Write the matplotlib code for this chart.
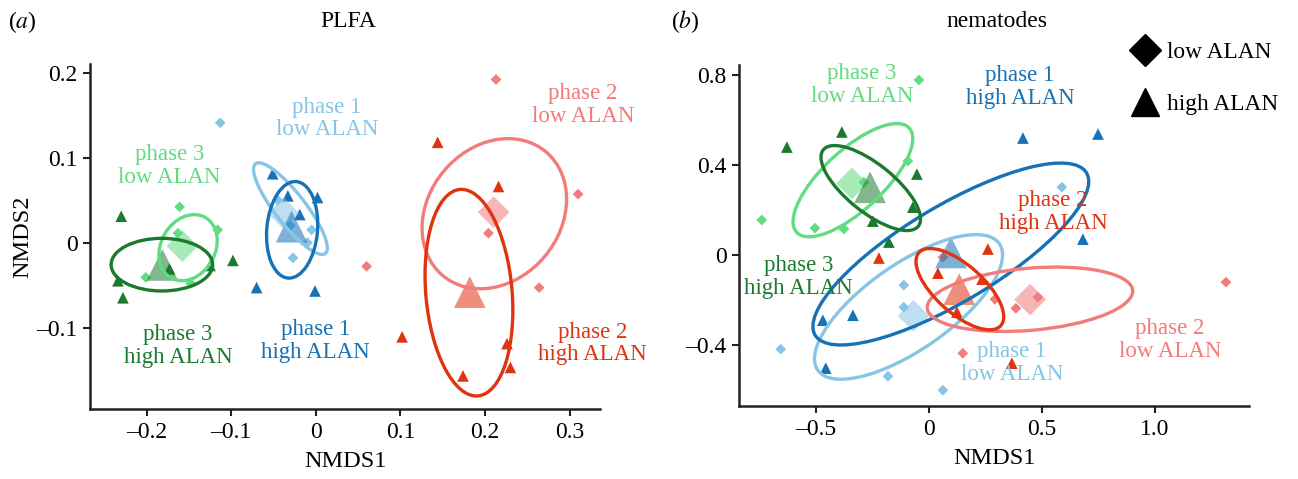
import matplotlib
matplotlib.use("Agg")
import matplotlib.pyplot as plt
from matplotlib.patches import Ellipse
from matplotlib.lines import Line2D
import numpy as np

# groups: (phase, ALAN level)
GROUPS = ["p1_low", "p1_high", "p2_low", "p2_high", "p3_low", "p3_high"]
LABELS = {
    "p1_low": "phase 1\nlow ALAN", "p1_high": "phase 1\nhigh ALAN",
    "p2_low": "phase 2\nlow ALAN", "p2_high": "phase 2\nhigh ALAN",
    "p3_low": "phase 3\nlow ALAN", "p3_high": "phase 3\nhigh ALAN",
}

# ---- PLFA (panel a) site scores
plfa_x = {
    "p1_low": [-0.113, -0.027, -0.010, -0.005, -0.045, -0.030],
    "p1_high": [-0.051, -0.033, 0.002, -0.019, -0.070, -0.001],
    "p2_low": [0.213, 0.310, 0.204, 0.060, 0.264],
    "p2_high": [0.144, 0.216, 0.102, 0.226, 0.230, 0.174],
    "p3_low": [-0.161, -0.163, -0.116, -0.201, -0.148],
    "p3_high": [-0.230, -0.228, -0.234, -0.098, -0.125, -0.173],
}
plfa_y = {
    "p1_low": [0.141, -0.018, 0.000, 0.015, 0.050, 0.020],
    "p1_high": [0.081, 0.055, 0.053, 0.033, -0.053, -0.057],
    "p2_low": [0.192, 0.057, 0.011, -0.028, -0.053],
    "p2_high": [0.118, 0.066, -0.111, -0.119, -0.147, -0.157],
    "p3_low": [0.042, 0.011, 0.015, -0.041, -0.048],
    "p3_high": [0.031, -0.065, -0.045, -0.021, -0.027, -0.031],
}
# ellipses: centre x, centre y, semi-major, semi-minor, angle (deg)
plfa_ell = {
    "p1_low": (-0.030, 0.040, 0.067, 0.018, -52),
    "p1_high": (-0.028, 0.015, 0.057, 0.030, 85),
    "p2_low": (0.211, 0.034, 0.095, 0.078, 50),
    "p2_high": (0.181, -0.059, 0.122, 0.051, 95),
    "p3_low": (-0.151, -0.006, 0.041, 0.032, 60),
    "p3_high": (-0.182, -0.026, 0.060, 0.031, 0),
}

# ---- nematodes (panel b)
nema_x = {
    "p1_low": [-0.655, -0.181, 0.062, -0.111, -0.111, 0.588],
    "p1_high": [0.416, 0.748, 0.681, -0.469, -0.336, -0.456],
    "p2_low": [1.314, 0.482, 0.385, 0.292, 0.150, 0.062],
    "p2_high": [-0.221, 0.261, 0.040, 0.235, 0.124, 0.367],
    "p3_low": [-0.739, -0.504, -0.376, -0.288, -0.093, -0.044],
    "p3_high": [-0.385, -0.628, -0.053, -0.071, -0.248, -0.177],
}
nema_y = {
    "p1_low": [-0.418, -0.538, -0.600, -0.133, -0.231, 0.302],
    "p1_high": [0.520, 0.538, 0.071, -0.289, -0.267, -0.502],
    "p2_low": [-0.120, -0.187, -0.236, -0.196, -0.436, -0.009],
    "p2_high": [-0.013, 0.027, -0.080, -0.107, -0.253, -0.480],
    "p3_low": [0.156, 0.120, 0.116, 0.324, 0.418, 0.778],
    "p3_high": [0.547, 0.480, 0.360, 0.213, 0.151, 0.058],
}
nema_ell = {
    "p1_low": (-0.09, -0.23, 0.49, 0.19, 35),
    "p1_high": (0.097, 0.005, 0.70, 0.213, 31),
    "p2_low": (0.447, -0.196, 0.456, 0.138, 5),
    "p2_high": (0.137, -0.151, 0.243, 0.106, -42),
    "p3_low": (-0.336, 0.333, 0.34, 0.133, 43),
    "p3_high": (-0.257, 0.298, 0.27, 0.106, -39),
}

COLORS = {
    "p1_low": "#86c5e6", "p1_high": "#1672b6",
    "p2_low": "#f27b7b", "p2_high": "#e0330f",
    "p3_low": "#62dc80", "p3_high": "#1c7a2f",
}

SERIF = ["Liberation Serif", "DejaVu Serif"]
plt.rcParams["font.family"] = SERIF
plt.rcParams["mathtext.fontset"] = "stix"

fig = plt.figure(figsize=(12.98, 4.79), dpi=100)
ax_a = fig.add_axes([0.0693, 0.146, 0.393, 0.720])
ax_b = fig.add_axes([0.5693, 0.152, 0.393, 0.712])


def draw_panel(ax, xs, ys, ells, label_pos, small_d, small_t, big_d, big_t):
    for g in GROUPS:
        c = COLORS[g]
        low = g.endswith("low")
        mk = "D" if low else "^"
        ax.scatter(xs[g], ys[g], marker=mk, s=small_d if low else small_t,
                   color=c, edgecolors="none", zorder=2)
        ax.scatter([np.mean(xs[g])], [np.mean(ys[g])], marker=mk,
                   s=big_d if low else big_t, color=c, alpha=0.55,
                   edgecolors="none", zorder=3)
        cx, cy, a, b, ang = ells[g]
        ax.add_patch(Ellipse((cx, cy), 2 * a, 2 * b, angle=ang, fill=False,
                             edgecolor=c, lw=2.4, zorder=4))
        tx, ty = label_pos[g]
        ax.text(tx, ty, LABELS[g], color=c, fontsize=16.5, ha="center",
                va="center", linespacing=1.1, zorder=5)
    for s in ("top", "right"):
        ax.spines[s].set_visible(False)
    for s in ("left", "bottom"):
        ax.spines[s].set_linewidth(1.8)
        ax.spines[s].set_color("#222222")
    ax.tick_params(direction="out", length=5, width=1.5, color="#222222",
                   labelsize=17, pad=4)
    ax.set_xlabel("NMDS1", fontsize=17.5, labelpad=6)


# panel a
draw_panel(ax_a, plfa_x, plfa_y, plfa_ell,
           {"p1_low": (0.013, 0.146), "p1_high": (0.0, -0.116),
            "p2_low": (0.316, 0.162), "p2_high": (0.327, -0.119),
            "p3_low": (-0.173, 0.090), "p3_high": (-0.163, -0.122)},
           30, 70, 260, 520)
ax_a.set_xlim(-0.267, 0.336)
ax_a.set_ylim(-0.196, 0.210)
ax_a.set_xticks([-0.2, -0.1, 0, 0.1, 0.2, 0.3])
ax_a.set_xticklabels(["\u20130.2", "\u20130.1", "0", "0.1", "0.2", "0.3"])
ax_a.set_yticks([-0.1, 0, 0.1, 0.2])
ax_a.set_yticklabels(["\u20130.1", "0", "0.1", "0.2"])
ax_a.set_ylabel("NMDS2", fontsize=17.5, labelpad=2)

# panel b
draw_panel(ax_b, nema_x, nema_y, nema_ell,
           {"p1_low": (0.367, -0.48), "p1_high": (0.403, 0.747),
            "p2_low": (1.066, -0.378), "p2_high": (0.549, 0.191),
            "p3_low": (-0.296, 0.756), "p3_high": (-0.575, -0.098)},
           30, 70, 260, 520)
ax_b.set_xlim(-0.84, 1.416)
ax_b.set_ylim(-0.671, 0.844)
ax_b.set_xticks([-0.5, 0, 0.5, 1.0])
ax_b.set_xticklabels(["\u20130.5", "0", "0.5", "1.0"])
ax_b.set_yticks([-0.4, 0, 0.4, 0.8])
ax_b.set_yticklabels(["\u20130.4", "0", "0.4", "0.8"])

# titles
fig.text(0.006, 0.955, "($a$)", fontsize=17, ha="left", va="center")
fig.text(0.268, 0.955, "PLFA", fontsize=17, ha="center", va="center")
fig.text(0.517, 0.955, "($b$)", fontsize=17, ha="left", va="center")
fig.text(0.768, 0.955, "nematodes", fontsize=17, ha="center", va="center")

# legend for the marker shapes
handles = [Line2D([], [], marker="D", ls="none", color="black", markersize=16),
           Line2D([], [], marker="^", ls="none", color="black", markersize=19.5)]
fig.legend(handles, ["low ALAN", "high ALAN"], loc="upper left",
           bbox_to_anchor=(0.871, 0.912), frameon=False, fontsize=16.8,
           handlelength=1.2, handletextpad=0.35, labelspacing=1.3,
           borderpad=0.0, borderaxespad=0.0)

fig.savefig("out.png", dpi=100)
